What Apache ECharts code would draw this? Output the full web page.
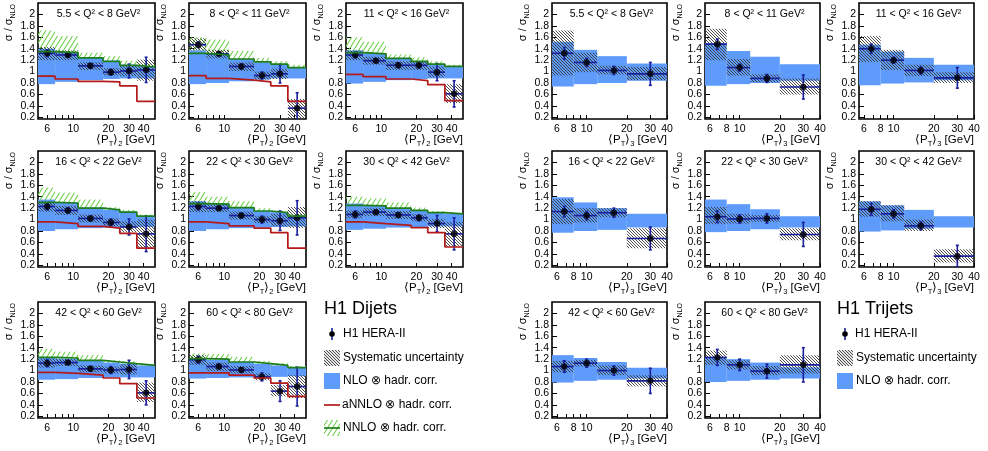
<!DOCTYPE html>
<html>
<head>
<meta charset="utf-8">
<script src="https://cdn.jsdelivr.net/npm/echarts@6/dist/echarts.min.js"></script>
<style>
html, body { margin: 0; padding: 0; background: #fff; }
#chart { width: 988px; height: 451px; }
</style>
</head>
<body>
<div id="chart"></div>
<script>
// ---------------- binning ----------------
const dijetEdges = [5, 7, 11, 18, 25, 35, 50];
const dijetCenters = [6, 9, 14, 21, 30, 42];
const trijetEdges = [5.5, 8, 12, 20, 40];
const trijetCenters = [6.8, 10, 16, 30];

const q2Labels = [
  '5.5 < Q² < 8 GeV²', '8 < Q² < 11 GeV²', '11 < Q² < 16 GeV²',
  '16 < Q² < 22 GeV²', '22 < Q² < 30 GeV²', '30 < Q² < 42 GeV²',
  '42 < Q² < 60 GeV²', '60 < Q² < 80 GeV²'
];

// axis ticks and labels
const dijetTickLabels = [6, 10, 20, 30, 40];
const dijetTicks = [6, 7, 8, 9, 10, 20, 30, 40];
const trijetTickLabels = [6, 8, 10, 20, 30, 40];
const trijetTicks = [6, 7, 8, 9, 10, 20, 30, 40];
const ratioTicks = [0.2, 0.4, 0.6, 0.8, 1, 1.2, 1.4, 1.6, 1.8, 2];

// ---------------- dijet ratios (one row per Q² bin) ----------------
const dijetVal = [
  [1.32, 1.29, 1.10, 0.99, 1.01, 1.03],
  [1.47, 1.31, 1.09, 0.93, 0.96, 0.36],
  [1.29, 1.19, 1.11, 1.11, 0.99, 0.61],
  [1.23, 1.16, 1.02, 0.95, 0.87, 0.75],
  [1.23, 1.20, 1.07, 1.00, 0.98, 1.03],
  [1.09, 1.13, 1.08, 1.03, 0.93, 0.75],
  [1.13, 1.14, 1.03, 1.01, 1.02, 0.61],
  [1.19, 1.07, 1.01, 0.89, 0.64, 0.72]
];
const dijetErr = [
  [0.06, 0.03, 0.04, 0.05, 0.12, 0.22],
  [0.05, 0.03, 0.04, 0.06, 0.16, 0.27],
  [0.05, 0.03, 0.04, 0.05, 0.15, 0.23],
  [0.06, 0.04, 0.04, 0.06, 0.14, 0.31],
  [0.06, 0.03, 0.04, 0.06, 0.17, 0.30],
  [0.06, 0.03, 0.04, 0.05, 0.14, 0.28],
  [0.06, 0.03, 0.04, 0.06, 0.16, 0.21],
  [0.06, 0.04, 0.04, 0.07, 0.18, 0.34]
];
const dijetSysLo = [
  [1.20, 1.20, 1.03, 0.93, 0.92, 0.84],
  [1.37, 1.23, 1.01, 0.86, 0.87, 0.18],
  [1.20, 1.12, 1.03, 1.03, 0.90, 0.45],
  [1.14, 1.08, 0.95, 0.88, 0.78, 0.50],
  [1.13, 1.13, 1.00, 0.94, 0.88, 0.85],
  [1.02, 1.06, 1.01, 0.97, 0.85, 0.53],
  [1.05, 1.08, 0.97, 0.95, 0.93, 0.45],
  [1.10, 0.99, 0.95, 0.83, 0.55, 0.52]
];
const dijetSysHi = [
  [1.43, 1.37, 1.16, 1.06, 1.10, 1.21],
  [1.58, 1.38, 1.16, 1.00, 1.05, 0.52],
  [1.37, 1.26, 1.18, 1.18, 1.09, 0.78],
  [1.32, 1.24, 1.09, 1.02, 0.97, 1.00],
  [1.32, 1.27, 1.14, 1.06, 1.10, 1.22],
  [1.16, 1.20, 1.15, 1.09, 1.01, 0.96],
  [1.21, 1.20, 1.09, 1.07, 1.11, 0.79],
  [1.27, 1.14, 1.08, 0.95, 0.75, 0.92]
];
const dijetNloLo = [
  [0.78, 0.82, 0.85, 0.87, 0.88, 0.88],
  [0.78, 0.80, 0.83, 0.86, 0.88, 0.88],
  [0.79, 0.82, 0.85, 0.87, 0.88, 0.88],
  [0.80, 0.83, 0.85, 0.86, 0.87, 0.87],
  [0.80, 0.83, 0.85, 0.86, 0.87, 0.88],
  [0.82, 0.84, 0.86, 0.87, 0.88, 0.88],
  [0.84, 0.85, 0.87, 0.88, 0.88, 0.88],
  [0.86, 0.87, 0.88, 0.89, 0.89, 0.90]
];
const dijetNloHi = [
  [1.40, 1.34, 1.25, 1.19, 1.12, 1.09],
  [1.37, 1.30, 1.22, 1.16, 1.12, 1.08],
  [1.37, 1.32, 1.23, 1.18, 1.13, 1.09],
  [1.35, 1.30, 1.21, 1.17, 1.14, 1.06],
  [1.32, 1.28, 1.21, 1.15, 1.13, 1.06],
  [1.28, 1.25, 1.20, 1.16, 1.12, 1.10],
  [1.23, 1.21, 1.17, 1.14, 1.12, 1.09],
  [1.20, 1.19, 1.15, 1.12, 1.09, 1.05]
];
const nnloCentral = [
  [1.35, 1.33, 1.24, 1.18, 1.11, 1.08],
  [1.32, 1.29, 1.22, 1.17, 1.13, 1.07],
  [1.33, 1.31, 1.23, 1.18, 1.13, 1.09],
  [1.30, 1.29, 1.20, 1.17, 1.13, 1.06],
  [1.28, 1.27, 1.21, 1.15, 1.12, 1.06],
  [1.25, 1.24, 1.20, 1.16, 1.12, 1.10],
  [1.23, 1.22, 1.18, 1.15, 1.12, 1.09],
  [1.21, 1.20, 1.15, 1.12, 1.09, 1.05]
];
const nnloHi = [
  [1.72, 1.62, 1.33, 1.27, 1.19, 1.13],
  [1.60, 1.56, 1.36, 1.24, 1.18, 1.12],
  [1.60, 1.52, 1.30, 1.25, 1.18, 1.12],
  [1.56, 1.47, 1.35, 1.22, 1.17, 1.09],
  [1.48, 1.40, 1.32, 1.20, 1.15, 1.10],
  [1.40, 1.37, 1.30, 1.21, 1.15, 1.12],
  [1.38, 1.33, 1.27, 1.18, 1.16, 1.11],
  [1.30, 1.29, 1.24, 1.17, 1.13, 1.08]
];
const nnloLo = [
  [1.05, 1.08, 1.12, 1.08, 1.02, 1.02],
  [1.05, 1.05, 1.08, 1.08, 1.06, 1.01],
  [1.05, 1.08, 1.14, 1.10, 1.07, 1.05],
  [1.05, 1.10, 1.05, 1.10, 1.08, 1.02],
  [1.08, 1.12, 1.10, 1.09, 1.08, 1.02],
  [1.10, 1.10, 1.10, 1.10, 1.08, 1.07],
  [1.08, 1.10, 1.08, 1.10, 1.08, 1.06],
  [1.12, 1.10, 1.06, 1.07, 1.05, 1.02]
];
const annlo = [
  [0.92, 0.87, 0.83, 0.82, 0.75, 0.48],
  [0.93, 0.88, 0.85, 0.82, 0.75, 0.48],
  [0.95, 0.91, 0.87, 0.84, 0.77, 0.49],
  [0.96, 0.93, 0.88, 0.85, 0.76, 0.50],
  [0.96, 0.93, 0.89, 0.85, 0.77, 0.50],
  [0.96, 0.93, 0.90, 0.86, 0.77, 0.52],
  [0.97, 0.95, 0.92, 0.87, 0.77, 0.52],
  [0.96, 0.96, 0.92, 0.87, 0.78, 0.55]
];

// ---------------- trijet ratios ----------------
const trijetVal = [
  [1.32, 1.16, 1.02, 0.96],
  [1.48, 1.07, 0.88, 0.73],
  [1.40, 1.20, 1.02, 0.89],
  [1.14, 1.07, 1.12, 0.67],
  [1.05, 1.01, 1.02, 0.74],
  [1.18, 1.10, 0.89, 0.36],
  [1.07, 1.13, 1.00, 0.82],
  [1.23, 1.10, 0.99, 1.10]
];
const trijetErr = [
  [0.10, 0.07, 0.07, 0.20],
  [0.09, 0.06, 0.07, 0.21],
  [0.08, 0.05, 0.06, 0.18],
  [0.09, 0.07, 0.08, 0.20],
  [0.10, 0.07, 0.08, 0.21],
  [0.10, 0.07, 0.07, 0.19],
  [0.10, 0.07, 0.08, 0.22],
  [0.14, 0.10, 0.12, 0.30]
];
const trijetSysLo = [
  [0.93, 0.99, 0.95, 0.85],
  [1.20, 0.93, 0.81, 0.60],
  [1.17, 1.03, 0.92, 0.80],
  [0.92, 0.95, 1.04, 0.50],
  [0.92, 0.93, 0.96, 0.64],
  [1.05, 0.97, 0.80, 0.25],
  [0.97, 1.07, 0.92, 0.72],
  [1.10, 1.02, 0.92, 0.95]
];
const trijetSysHi = [
  [1.72, 1.33, 1.10, 1.08],
  [1.75, 1.22, 0.95, 0.88],
  [1.62, 1.38, 1.12, 0.99],
  [1.36, 1.20, 1.20, 0.85],
  [1.22, 1.10, 1.08, 0.85],
  [1.32, 1.25, 1.00, 0.48],
  [1.17, 1.19, 1.09, 0.92],
  [1.35, 1.18, 1.08, 1.27]
];
const trijetNloLo = [
  [0.74, 0.78, 0.80, 0.84],
  [0.75, 0.78, 0.80, 0.84],
  [0.76, 0.79, 0.81, 0.85],
  [0.77, 0.80, 0.82, 0.86],
  [0.78, 0.80, 0.83, 0.86],
  [0.79, 0.81, 0.84, 0.86],
  [0.79, 0.82, 0.84, 0.86],
  [0.80, 0.82, 0.84, 0.86]
];
const trijetNloHi = [
  [1.52, 1.38, 1.27, 1.14],
  [1.50, 1.36, 1.26, 1.13],
  [1.47, 1.35, 1.24, 1.12],
  [1.39, 1.30, 1.20, 1.10],
  [1.35, 1.27, 1.18, 1.06],
  [1.32, 1.25, 1.17, 1.06],
  [1.27, 1.22, 1.15, 1.05],
  [1.22, 1.20, 1.14, 1.06]
];

// ---------------- styling / layout ----------------
const FONT = '"Liberation Sans", Arial, Helvetica, sans-serif';
const BLUE = '#5e9bfb';
const DATA_BLUE = '#1a1f9c';
const GREEN_LINE = '#1d7d1d';
const RED_LINE = '#b31b1b';
const Y_MIN = 0.17, Y_MAX = 2.2;
const DIJET_LEFT = [38, 189, 346], DIJET_W = 117;
const TRIJET_LEFT = [552, 705, 859], TRIJET_W = 115;
const ROW_TOP = [3, 151, 302], ROW_H = 116;

function hatchCanvas(w, h, color, lw, rising) {
  const c = document.createElement('canvas');
  c.width = w; c.height = h;
  const g = c.getContext('2d');
  g.strokeStyle = color; g.lineWidth = lw;
  for (let k = -1; k <= 1; k++) {
    g.beginPath();
    if (rising) { g.moveTo(k * w, h); g.lineTo(k * w + w, 0); }
    else { g.moveTo(k * w, 0); g.lineTo(k * w + w, h); }
    g.stroke();
  }
  return c;
}
const greenHatch = { image: hatchCanvas(5, 8, '#6bd048', 1.1, true), repeat: 'repeat' };
const grayHatch = { image: hatchCanvas(3, 3, '#3a3a3a', 0.9, false), repeat: 'repeat' };

const grids = [], xAxes = [], yAxes = [], series = [], graphics = [];

function boxRenderer(fill) {
  return function (params, api) {
    const p0 = api.coord([api.value(0), api.value(3)]);
    const p1 = api.coord([api.value(1), api.value(2)]);
    return {
      type: 'rect',
      shape: { x: p0[0], y: p0[1], width: p1[0] - p0[0], height: p1[1] - p0[1] },
      style: { fill: fill }
    };
  };
}

function errRenderer(params, api) {
  const x = api.value(0), y = api.value(1), e = api.value(2);
  const pc = api.coord([x, y]);
  const pt = api.coord([x, y + e]);
  const pb = api.coord([x, y - e]);
  const pl = api.coord([api.value(3), y]);
  const pr = api.coord([api.value(4), y]);
  const st = { stroke: DATA_BLUE, lineWidth: 1.6 };
  return {
    type: 'group',
    children: [
      { type: 'line', shape: { x1: pl[0], y1: pc[1], x2: pr[0], y2: pc[1] }, style: st },
      { type: 'line', shape: { x1: pc[0], y1: pt[1], x2: pc[0], y2: pb[1] }, style: st },
      { type: 'line', shape: { x1: pc[0] - 1.5, y1: pt[1], x2: pc[0] + 1.5, y2: pt[1] }, style: st },
      { type: 'line', shape: { x1: pc[0] - 1.5, y1: pb[1], x2: pc[0] + 1.5, y2: pb[1] }, style: st }
    ]
  };
}

function bandItems(edges, lo, hi) {
  return lo.map((v, i) => [edges[i], edges[i + 1], v, hi[i]]);
}
function stepPoints(edges, vals) {
  const pts = vals.map((v, i) => [edges[i], v]);
  pts.push([edges[edges.length - 1], vals[vals.length - 1]]);
  return pts;
}

function addText(x, y, text, opts) {
  graphics.push(Object.assign({
    type: 'text', x: x, y: y, silent: true,
    style: Object.assign({ text: text, fill: '#000', fontFamily: FONT, fontSize: 11, align: 'left', verticalAlign: 'middle' }, opts || {})
  }));
}

function addPanel(p) {
  const gi = grids.length;
  grids.push({
    left: p.left, top: p.top, width: p.width, height: ROW_H,
    show: true, borderColor: '#000', borderWidth: 1.6, backgroundColor: 'transparent',
    containLabel: false, outerBoundsMode: 'none'
  });
  xAxes.push({
    type: 'log', logBase: 10, gridIndex: gi, min: p.xmin, max: p.xmax,
    axisLine: { show: false }, splitLine: { show: false },
    axisTick: { show: true, inside: true, length: 4, customValues: p.ticks, lineStyle: { color: '#000', width: 1 } },
    axisLabel: { customValues: p.labels, margin: 5, fontSize: 10.5, color: '#000', fontFamily: FONT }
  });
  yAxes.push({
    type: 'value', gridIndex: gi, min: Y_MIN, max: Y_MAX,
    axisLine: { show: false }, splitLine: { show: false },
    axisTick: { show: true, inside: true, length: 5, customValues: ratioTicks, lineStyle: { color: '#000', width: 1 } },
    axisLabel: { customValues: ratioTicks, margin: 3, fontSize: 10.5, color: '#000', fontFamily: FONT,
      formatter: v => String(Math.round(v * 10) / 10) }
  });
  const ax = { xAxisIndex: gi, yAxisIndex: gi };

  if (p.nnloHi) {
    series.push(Object.assign({ type: 'custom', clip: true, renderItem: boxRenderer(greenHatch),
      encode: { x: [0, 1], y: [2, 3] }, data: bandItems(p.edges, p.nnloLo, p.nnloHi) }, ax));
  }
  series.push(Object.assign({ type: 'custom', clip: true, renderItem: boxRenderer(BLUE),
    encode: { x: [0, 1], y: [2, 3] }, data: bandItems(p.edges, p.nloLo, p.nloHi) }, ax));
  series.push(Object.assign({ type: 'custom', clip: true, renderItem: boxRenderer(grayHatch),
    encode: { x: [0, 1], y: [2, 3] }, data: bandItems(p.edges, p.sysLo, p.sysHi) }, ax));
  if (p.nnlo) {
    series.push(Object.assign({ type: 'line', step: 'end', symbol: 'none', clip: true,
      lineStyle: { color: GREEN_LINE, width: 1.7 }, data: stepPoints(p.edges, p.nnlo) }, ax));
  }
  if (p.annlo) {
    series.push(Object.assign({ type: 'line', step: 'end', symbol: 'none', clip: true,
      lineStyle: { color: RED_LINE, width: 1.7 }, data: stepPoints(p.edges, p.annlo) }, ax));
  }
  series.push(Object.assign({ type: 'custom', clip: true, renderItem: errRenderer,
    encode: { x: [0, 3, 4], y: [1] },
    data: p.val.map((v, i) => [p.centers[i], v, p.err[i], p.edges[i], p.edges[i + 1]]) }, ax));
  series.push(Object.assign({ type: 'scatter', symbol: 'circle', symbolSize: 6.5, clip: true,
    itemStyle: { color: '#000' }, data: p.val.map((v, i) => [p.centers[i], v]) }, ax));

  // panel texts
  addText(p.left + p.width / 2 + 2, p.top + 11, p.q2, { align: 'center', fontSize: 10.5 });
  addText(p.left + p.width, p.top + ROW_H + 21, '⟨P{s|T}⟩{s|' + p.sub + '} [GeV]', {
    align: 'right', fontSize: 11.5, lineHeight: 15,
    rich: { s: { fontSize: 7.5, verticalAlign: 'bottom', lineHeight: 8, fontFamily: FONT } }
  });
  graphics.push({
    type: 'text', x: p.left - 29, y: p.top + 1, rotation: Math.PI / 2, silent: true,
    style: {
      text: 'σ / σ{s|NLO}', fill: '#000', fontFamily: FONT, fontSize: 11, lineHeight: 15,
      align: 'right', verticalAlign: 'middle',
      rich: { s: { fontSize: 7, verticalAlign: 'bottom', lineHeight: 7, fontFamily: FONT } }
    }
  });
}

for (let i = 0; i < 8; i++) {
  const row = Math.floor(i / 3), col = i % 3;
  addPanel({
    left: DIJET_LEFT[col], top: ROW_TOP[row], width: DIJET_W,
    xmin: 5, xmax: 50, ticks: dijetTicks, labels: dijetTickLabels,
    edges: dijetEdges, centers: dijetCenters, sub: '2', q2: q2Labels[i],
    val: dijetVal[i], err: dijetErr[i], sysLo: dijetSysLo[i], sysHi: dijetSysHi[i],
    nloLo: dijetNloLo[i], nloHi: dijetNloHi[i],
    nnlo: nnloCentral[i], nnloLo: nnloLo[i], nnloHi: nnloHi[i], annlo: annlo[i]
  });
}
for (let i = 0; i < 8; i++) {
  const row = Math.floor(i / 3), col = i % 3;
  addPanel({
    left: TRIJET_LEFT[col], top: ROW_TOP[row], width: TRIJET_W,
    xmin: 5.5, xmax: 40, ticks: trijetTicks, labels: trijetTickLabels,
    edges: trijetEdges, centers: trijetCenters, sub: '3', q2: q2Labels[i],
    val: trijetVal[i], err: trijetErr[i], sysLo: trijetSysLo[i], sysHi: trijetSysHi[i],
    nloLo: trijetNloLo[i], nloHi: trijetNloHi[i]
  });
}

// ---------------- legends ----------------
function dataMarker(x, y) {
  graphics.push({ type: 'line', silent: true, shape: { x1: x, y1: y - 6, x2: x, y2: y + 6 }, style: { stroke: DATA_BLUE, lineWidth: 1.6 } });
  graphics.push({ type: 'circle', silent: true, shape: { cx: x, cy: y, r: 2.8 }, style: { fill: '#000' } });
}
function legendBox(x, y, w, h, fill) {
  graphics.push({ type: 'rect', silent: true, shape: { x: x, y: y, width: w, height: h }, style: { fill: fill } });
}

// dijet legend
addText(324, 309, 'H1 Dijets', { fontSize: 18 });
dataMarker(332, 334);
addText(343, 334, 'H1 HERA-II', { fontSize: 12 });
legendBox(324, 350, 16, 16, '#e6e6e6');
legendBox(324, 350, 16, 16, grayHatch);
addText(343, 358, 'Systematic uncertainty', { fontSize: 12 });
legendBox(324, 373, 16, 16, BLUE);
addText(343, 381, 'NLO ⊗ hadr. corr.', { fontSize: 12 });
graphics.push({ type: 'line', silent: true, shape: { x1: 324, y1: 405, x2: 340, y2: 405 }, style: { stroke: RED_LINE, lineWidth: 1.7 } });
addText(342, 405, 'aNNLO ⊗ hadr. corr.', { fontSize: 12 });
legendBox(324, 420, 16, 16, greenHatch);
graphics.push({ type: 'line', silent: true, shape: { x1: 324, y1: 428, x2: 340, y2: 428 }, style: { stroke: GREEN_LINE, lineWidth: 1.7 } });
addText(343, 428, 'NNLO ⊗ hadr. corr.', { fontSize: 12 });

// trijet legend
addText(837, 309, 'H1 Trijets', { fontSize: 18 });
dataMarker(845, 334);
addText(855, 334, 'H1 HERA-II', { fontSize: 12 });
legendBox(837, 350, 16, 16, '#e6e6e6');
legendBox(837, 350, 16, 16, grayHatch);
addText(856, 358, 'Systematic uncertainty', { fontSize: 12 });
legendBox(837, 373, 16, 16, BLUE);
addText(856, 381, 'NLO ⊗ hadr. corr.', { fontSize: 12 });

const chart = echarts.init(document.getElementById('chart'), null, { renderer: 'canvas' });
chart.setOption({
  animation: false,
  backgroundColor: '#fff',
  textStyle: { fontFamily: FONT },
  grid: grids,
  xAxis: xAxes,
  yAxis: yAxes,
  series: series,
  graphic: { elements: graphics }
});
</script>
</body>
</html>
